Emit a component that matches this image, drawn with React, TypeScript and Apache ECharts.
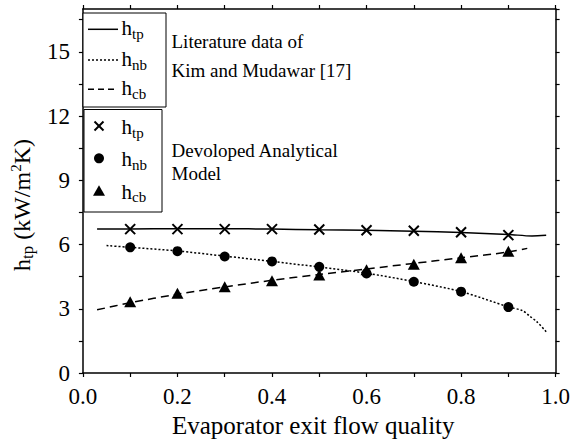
import React, { useEffect, useRef } from "react";
import * as echarts from "echarts";

// ---- data ----
const modelX = [0.1, 0.2, 0.3, 0.4, 0.5, 0.6, 0.7, 0.8, 0.9];
const tpModel = [6.72, 6.72, 6.72, 6.72, 6.7, 6.67, 6.64, 6.57, 6.44];
const nbModel = [5.87, 5.69, 5.44, 5.21, 4.96, 4.65, 4.26, 3.8, 3.08];
const cbModel = [3.33, 3.72, 4.03, 4.31, 4.58, 4.82, 5.08, 5.38, 5.69];

const litTpX = [0.03, 0.1, 0.2, 0.3, 0.4, 0.5, 0.6, 0.7, 0.8, 0.9, 0.95, 0.98];
const litTpY = [6.72, 6.73, 6.74, 6.74, 6.72, 6.69, 6.67, 6.62, 6.56, 6.47, 6.4, 6.43];
const litNbX = [0.05, 0.1, 0.2, 0.3, 0.4, 0.5, 0.6, 0.7, 0.8, 0.9, 0.93, 0.945, 0.96, 0.98];
const litNbY = [5.95, 5.87, 5.7, 5.46, 5.21, 4.95, 4.66, 4.27, 3.8, 3.09, 2.91, 2.66, 2.4, 1.93];
const litCbX = [0.03, 0.1, 0.2, 0.3, 0.4, 0.5, 0.6, 0.7, 0.8, 0.9, 0.94];
const litCbY = [2.95, 3.28, 3.68, 4.02, 4.33, 4.6, 4.86, 5.12, 5.38, 5.65, 5.82];

const xMin = 0;
const xMax = 1;
const xTickStep = 0.1;
const yMin = 0;
const yMax = 17;
const yTickStep = 1.5;
const yLabelStep = 3;
const yLabelMax = 15;

const litLabels = ["Literature data of", "Kim and Mudawar [17]"];
const modelLabels = ["Devoloped Analytical", "Model"];
const subs = ["tp", "nb", "cb"];

const FONT = "Liberation Serif";

const zip = (xs: number[], ys: number[]) => xs.map((x, i) => [x, ys[i]]);

export default function App() {
  const ref = useRef<HTMLDivElement>(null);
  useEffect(() => {
    if (!ref.current) return;
    const chart = echarts.init(ref.current, undefined, { renderer: "svg" });

    const axisLine = { show: true, onZero: false, lineStyle: { color: "#000", width: 1.5 } };
    const tick = { show: true, inside: false, length: 4, lineStyle: { color: "#000", width: 1.2 } };

    const legendRich = {
      h: { fontFamily: FONT, fontSize: 21, color: "#000" },
      s: { fontFamily: FONT, fontSize: 15, color: "#000", padding: [11, 0, 0, 0] },
    };
    const legText = (x: number, y: number, sub: string) => ({
      type: "text",
      x,
      y,
      style: {
        text: `{h|h}{s|${sub}}`,
        rich: legendRich,
        fontFamily: FONT,
        verticalAlign: "middle",
        fill: "#000",
      },
    });
    const plainText = (x: number, y: number, t: string) => ({
      type: "text",
      x,
      y,
      style: {
        text: t,
        fontFamily: FONT,
        fontSize: 19,
        fill: "#000",
        verticalAlign: "middle",
      },
    });

    const box1Y = [29.3, 60, 89.3];
    const box2Y = [126, 158.3, 190.7];
    const mx = 99;

    const graphic: any[] = [
      { type: "rect", shape: { x: 83, y: 13, width: 83, height: 94 }, style: { fill: "#fff", stroke: "#000", lineWidth: 1 }, z: 100 },
      { type: "rect", shape: { x: 84, y: 109.5, width: 78, height: 102.5 }, style: { fill: "#fff", stroke: "#000", lineWidth: 1 }, z: 100 },
      { type: "line", shape: { x1: 88, y1: box1Y[0], x2: 118, y2: box1Y[0] }, style: { stroke: "#000", lineWidth: 1.5 }, z: 101 },
      { type: "line", shape: { x1: 88, y1: box1Y[1], x2: 118, y2: box1Y[1] }, style: { stroke: "#000", lineWidth: 1.5, lineDash: [2, 2] }, z: 101 },
      { type: "line", shape: { x1: 88, y1: box1Y[2], x2: 118, y2: box1Y[2] }, style: { stroke: "#000", lineWidth: 1.5, lineDash: [6, 4] }, z: 101 },
      ...subs.map((s, i) => ({ ...legText(121.5, box1Y[i] - 1, s), z: 101 })),
      { type: "line", shape: { x1: mx - 4.5, y1: box2Y[0] - 4.5, x2: mx + 4.5, y2: box2Y[0] + 4.5 }, style: { stroke: "#000", lineWidth: 2 }, z: 101 },
      { type: "line", shape: { x1: mx + 4.5, y1: box2Y[0] - 4.5, x2: mx - 4.5, y2: box2Y[0] + 4.5 }, style: { stroke: "#000", lineWidth: 2 }, z: 101 },
      { type: "circle", shape: { cx: mx, cy: box2Y[1], r: 5 }, style: { fill: "#000" }, z: 101 },
      { type: "polygon", shape: { points: [[mx, box2Y[2] - 5.5], [mx + 6, box2Y[2] + 5], [mx - 6, box2Y[2] + 5]] }, style: { fill: "#000" }, z: 101 },
      ...subs.map((s, i) => ({ ...legText(121.5, box2Y[i] + 1, s), z: 101 })),
      { ...plainText(171.5, 41.8, litLabels[0]), z: 101 },
      { ...plainText(171.5, 70.8, litLabels[1]), z: 101 },
      { ...plainText(171.5, 150.2, modelLabels[0]), z: 101 },
      { ...plainText(171.5, 173.5, modelLabels[1]), z: 101 },
    ];

    const xFmt = (v: number) => {
      const k = Math.round(v * 10);
      return k % 2 === 0 ? (k / 10).toFixed(1) : "";
    };
    const yFmt = (v: number) => {
      const r = Math.round(v * 10) / 10;
      return Math.abs(r / yLabelStep - Math.round(r / yLabelStep)) < 1e-6 && r <= yLabelMax ? String(r) : "";
    };

    const option: any = {
      animation: false,
      backgroundColor: "#fff",
      textStyle: { fontFamily: FONT, color: "#000" },
      grid: { left: 79, right: 17, top: 9, bottom: 70, containLabel: false },
      xAxis: [
        {
          type: "value",
          position: "bottom",
          min: xMin,
          max: xMax,
          interval: xTickStep,
          axisLine,
          axisTick: tick,
          axisLabel: {
            formatter: xFmt,
            fontFamily: FONT,
            fontSize: 23,
            color: "#000",
            margin: 12,
            hideOverlap: false,
          },
          splitLine: { show: false },
          name: "Evaporator exit flow quality",
          nameLocation: "middle",
          nameGap: 33,
          nameTextStyle: { fontFamily: FONT, fontSize: 25, color: "#000", padding: [0, 12, 0, 0] },
        },
        {
          type: "value",
          position: "top",
          min: xMin,
          max: xMax,
          interval: xTickStep,
          axisLine,
          axisTick: tick,
          axisLabel: { show: false },
          splitLine: { show: false },
        },
      ],
      yAxis: [
        {
          type: "value",
          position: "left",
          min: yMin,
          max: yMax,
          interval: yTickStep,
          axisLine,
          axisTick: tick,
          axisLabel: {
            formatter: yFmt,
            fontFamily: FONT,
            fontSize: 23,
            color: "#000",
            margin: 13,
            showMaxLabel: false,
            hideOverlap: false,
          },
          splitLine: { show: false },
          name: "{a|h}{b|tp}{a| (kW/m}{c|2}{a|K)}",
          nameLocation: "middle",
          nameRotate: 90,
          nameGap: 42,
          nameTextStyle: {
            fontFamily: FONT,
            fontSize: 24,
            color: "#000",
            padding: [0, 28, 0, 0],
            rich: {
              a: { fontFamily: FONT, fontSize: 24, color: "#000" },
              b: { fontFamily: FONT, fontSize: 17, color: "#000", padding: [12, 0, 0, 0] },
              c: { fontFamily: FONT, fontSize: 15, color: "#000", padding: [0, 0, 12, 0] },
            },
          },
        },
        {
          type: "value",
          position: "right",
          min: yMin,
          max: yMax,
          interval: yTickStep,
          axisLine,
          axisTick: tick,
          axisLabel: { show: false },
          splitLine: { show: false },
        },
      ],
      series: [
        {
          name: "h_tp (literature)",
          type: "line",
          data: zip(litTpX, litTpY),
          smooth: 0.3,
          showSymbol: false,
          symbol: "none",
          lineStyle: { color: "#000", width: 1.5, type: "solid" },
          z: 2,
        },
        {
          name: "h_nb (literature)",
          type: "line",
          data: zip(litNbX, litNbY),
          smooth: 0.3,
          showSymbol: false,
          symbol: "none",
          lineStyle: { color: "#000", width: 1.5, type: [2, 2] },
          z: 2,
        },
        {
          name: "h_cb (literature)",
          type: "line",
          data: zip(litCbX, litCbY),
          smooth: 0.3,
          showSymbol: false,
          symbol: "none",
          lineStyle: { color: "#000", width: 1.5, type: [8, 5] },
          z: 2,
        },
        {
          name: "h_tp (model)",
          type: "scatter",
          data: zip(modelX, tpModel),
          symbol: "path://M0,0L10,10M10,0L0,10",
          symbolSize: 10,
          itemStyle: { color: "rgba(0,0,0,0)", borderColor: "#000", borderWidth: 2, opacity: 1 },
          z: 3,
        },
        {
          name: "h_nb (model)",
          type: "scatter",
          data: zip(modelX, nbModel),
          symbol: "circle",
          symbolSize: 10,
          itemStyle: { color: "#000", opacity: 1 },
          z: 3,
        },
        {
          name: "h_cb (model)",
          type: "scatter",
          data: zip(modelX, cbModel),
          symbol: "triangle",
          symbolSize: [12, 11],
          itemStyle: { color: "#000", opacity: 1 },
          z: 3,
        },
      ],
      graphic,
    };
    chart.setOption(option);
    return () => chart.dispose();
  }, []);
  return <div ref={ref} style={{ position: "fixed", left: 0, top: 0, width: 573, height: 443 }} />;
}
